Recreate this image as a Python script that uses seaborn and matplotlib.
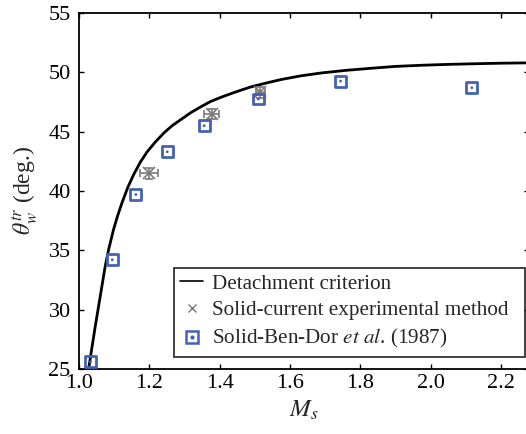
import numpy as np
import pandas as pd
import matplotlib
matplotlib.use("Agg")
import matplotlib.pyplot as plt
from matplotlib.lines import Line2D
import seaborn as sns

# Detachment criterion curve (Ms, wedge angle in degrees)
crit_ms = [1.0287, 1.046, 1.060, 1.0745, 1.084, 1.098, 1.110, 1.122, 1.139,
           1.156, 1.175, 1.194, 1.218, 1.242, 1.265, 1.289, 1.318, 1.347,
           1.375, 1.404, 1.432, 1.461, 1.490, 1.519, 1.547, 1.576, 1.630,
           1.690, 1.760, 1.834, 1.900, 1.977, 2.050, 2.120, 2.200, 2.280]
crit_theta = [25.2, 28.5, 31.0, 33.6, 35.0, 36.7, 37.9, 38.96, 40.3,
              41.4, 42.45, 43.3, 44.15, 44.9, 45.5, 46.0, 46.6, 47.1,
              47.55, 47.9, 48.2, 48.5, 48.78, 49.0, 49.2, 49.4, 49.7,
              49.95, 50.17, 50.35, 50.5, 50.6, 50.67, 50.72, 50.77, 50.8]

# Solid-current experimental method
exp_ms = [1.199, 1.377, 1.516]
exp_theta = [41.5, 46.5, 48.3]
exp_ms_err = [0.026, 0.02, 0.012]
exp_theta_err = [0.45, 0.45, 0.45]

# Ben-Dor et al. (1987)
bd_ms = [1.033, 1.095, 1.162, 1.251, 1.356, 1.510, 1.744, 2.117]
bd_theta = [25.6, 34.2, 39.7, 43.3, 45.5, 47.75, 49.26, 48.7]

sns.set_style("ticks")
plt.rcParams["font.family"] = ["Liberation Serif", "DejaVu Serif"]
plt.rcParams["mathtext.fontset"] = "stix"

blue = "#4562B0"
gray = "#7a7a7a"

fig = plt.figure(figsize=(5.26, 4.34), dpi=100)
ax = fig.add_axes([0.150, 0.150, 0.856, 0.820])

crit = pd.DataFrame({"Ms": crit_ms, "theta": crit_theta})
sns.lineplot(data=crit, x="Ms", y="theta", color="black", lw=2.0, ax=ax,
             estimator=None, sort=False, solid_joinstyle="round")

ax.errorbar(exp_ms, exp_theta, xerr=exp_ms_err, yerr=exp_theta_err, fmt="x",
            color=gray, ms=8, mew=1.2, elinewidth=1.2, capsize=3, capthick=1.2,
            zorder=3)

bd = pd.DataFrame({"Ms": bd_ms, "theta": bd_theta})
sns.scatterplot(data=bd, x="Ms", y="theta", marker="s", s=62, facecolor="none",
                edgecolor=blue, linewidth=2.0, ax=ax, zorder=4)
sns.scatterplot(data=bd, x="Ms", y="theta", marker="o", s=4, color=blue,
                edgecolor="none", ax=ax, zorder=5)

ax.set_xlim(1.0, 2.28)
ax.set_ylim(25, 55)
ax.set_xticks([1.0, 1.2, 1.4, 1.6, 1.8, 2.0, 2.2])
ax.set_xticklabels(["1.0", "1.2", "1.4", "1.6", "1.8", "2.0", "2.2"])
ax.set_yticks([25, 30, 35, 40, 45, 50, 55])
ax.tick_params(direction="in", length=3.6, width=1, top=True, right=True,
               labelsize=16, colors="black")
ax.tick_params(axis="x", pad=4)
ax.tick_params(axis="y", pad=6)
for s in ax.spines.values():
    s.set_linewidth(1.3)
    s.set_color("black")

ax.set_xlabel(r"$M_s$", fontsize=18, labelpad=4)
ax.set_ylabel(r"$\theta_w^{tr}$ (deg.)", fontsize=17, labelpad=6)

h_line = Line2D([], [], color="black", lw=1.2)
h_exp = Line2D([], [], color=gray, marker="x", ls="none", ms=6, mew=1.0)
h_sq = Line2D([], [], color=blue, marker="s", ls="none", ms=8, mfc="none", mew=1.8)
h_dot = Line2D([], [], color=blue, marker="o", ls="none", ms=2)
leg = ax.legend([h_line, h_exp, (h_sq, h_dot)],
                ["Detachment criterion", "Solid-current experimental method",
                 r"Solid-Ben-Dor $\it{et\ al}$. (1987)"],
                loc="lower left", bbox_to_anchor=(0.211, 0.034, 0.7795, 0.2),
                mode="expand", fontsize=15.2,
                frameon=True, fancybox=False, edgecolor="black",
                handlelength=1.1, handletextpad=0.4, borderpad=0.3,
                labelspacing=0.33, borderaxespad=0.0)
leg.get_frame().set_linewidth(1.3)

fig.savefig("out.png", dpi=100)
